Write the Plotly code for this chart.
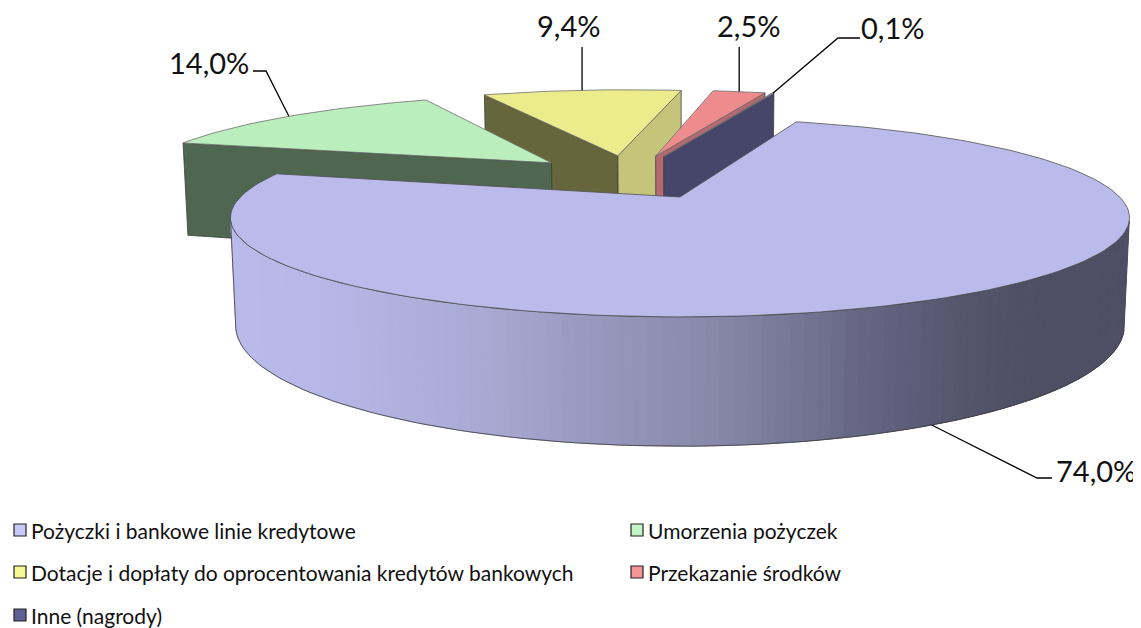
import numpy as np
import plotly.graph_objects as go

# ---- data ----
labels = ["Pożyczki i bankowe linie kredytowe", "Umorzenia pożyczek",
          "Dotacje i dopłaty do oprocentowania kredytów bankowych",
          "Przekazanie środków", "Inne (nagrody)"]
values = [74.0, 14.0, 9.4, 2.5, 0.1]
top_colors = ["#BBBBEB", "#BAEEBD", "#ECEC8C", "#EE8B8D", "#6A6A9C"]
legend_colors = ["#C8C8FA", "#C4F5C8", "#F8F890", "#F49496", "#5F5F96"]
face_colors = {1: {"start": "#4F6650"}, 2: {"start": "#66663C", "end": "#C4C47A"},
               3: {"end": "#B56A70"}, 4: {"end": "#46466A"}}

# ---- view of the pie ----
FIRST_ANGLE = 18.5
EXPLODE = 0.255
ELEV = np.radians(12.47)
DIST = 4.69
FOCAL = 2062.0
CX, CY = 680.0, 197.0
HEIGHT = 0.245
S, C = np.sin(ELEV), np.cos(ELEV)
LINE = "#3C3C3C"


def proj(x, y, z=0.0):
    w = DIST + y * C - z * S
    return CX + FOCAL * x / w, CY - FOCAL * (y * S + z * C) / w


def dirv(a):
    r = np.radians(a)
    return np.sin(r), np.cos(r)


fig = go.Figure()


def poly(pts, fill=None, line=LINE, width=0.8):
    xs = [p[0] for p in pts] + [pts[0][0]]
    ys = [p[1] for p in pts] + [pts[0][1]]
    fig.add_trace(go.Scatter(x=xs, y=ys, mode="lines", fill="toself" if fill else None,
                             fillcolor=fill, line=dict(color=line, width=width),
                             hoverinfo="skip", showlegend=False))


# slice angles and centres
bounds = [FIRST_ANGLE]
for v in values:
    bounds.append(bounds[-1] + v / sum(values) * 360)
mids = [(bounds[i] + bounds[i + 1]) / 2 for i in range(len(values))]
mx, my = dirv(mids[0])
tx, ty = -EXPLODE * mx, -EXPLODE * my   # true centre, main slice apex is the origin
centres = [(tx + EXPLODE * dirv(m)[0], ty + EXPLODE * dirv(m)[1]) for m in mids]


def rim(i, a, z=0.0):
    dx, dy = dirv(a)
    return proj(centres[i][0] + dx, centres[i][1] + dy, z)


def apex(i, z=0.0):
    return proj(centres[i][0], centres[i][1], z)


def top_pts(i):
    n = max(2, int((bounds[i + 1] - bounds[i]) / 1.5) + 2)
    return [apex(i)] + [rim(i, a) for a in np.linspace(bounds[i], bounds[i + 1], n)]


# far slices, back to front
for i in [2, 3, 4, 1]:
    for key, ang in (("start", bounds[i]), ("end", bounds[i + 1])):
        if key in face_colors[i]:
            poly([apex(i), rim(i, ang), rim(i, ang, -HEIGHT), apex(i, -HEIGHT)], face_colors[i][key])
    poly(top_pts(i), top_colors[i], line="#6E6E6E")

# main slice: rim wall with a gradient from light to dark
stops_x = [230, 320, 460, 600, 720, 850, 960, 1040, 1135]
stops_c = [(187, 187, 235), (184, 184, 232), (172, 172, 215), (152, 152, 190), (135, 135, 170),
           (105, 105, 135), (85, 85, 110), (78, 78, 100), (78, 78, 100)]


def wall_color(u):
    return "rgb(%d,%d,%d)" % tuple(np.interp(u, stops_x, [c[k] for c in stops_c]) for k in range(3))


angles = np.arange(bounds[0], bounds[1] + 0.01, 1.5)
vis = []
for a in angles:
    dx, dy = dirv(a)
    # camera sits at y = -DIST*C, z = DIST*S above the plane
    if dx * (0 - dx) + dy * (-DIST * C - dy) > 0:
        vis.append(a)
for a0, a1 in zip(vis[:-1], vis[1:]):
    p = [rim(0, a0), rim(0, a1), rim(0, a1, -HEIGHT), rim(0, a0, -HEIGHT)]
    col = wall_color(sum(q[0] for q in p) / 4)
    poly(p, col, line=col, width=1)
edge_x = [rim(0, a)[0] for a in vis] + [rim(0, a, -HEIGHT)[0] for a in vis[::-1]]
edge_y = [rim(0, a)[1] for a in vis] + [rim(0, a, -HEIGHT)[1] for a in vis[::-1]]
fig.add_trace(go.Scatter(x=edge_x, y=edge_y, mode="lines", line=dict(color="#3C3C3C", width=0.8),
                         hoverinfo="skip", showlegend=False))
poly(top_pts(0), top_colors[0], line="#505050")

# ---- percentage labels with leader lines ----
label_pos = [(1096, 470), (209, 62), (568, 25), (748, 25), (892, 27)]
elbows = [[(1037, 478), (1052, 478)], [(266, 71), (253, 71)], [(None, 47)], [(None, 47)],
          [(838, 38), (860, 38)]]
for i, v in enumerate(values):
    start = rim(0, mids[0], -HEIGHT) if i == 0 else rim(i, mids[i])
    pts = [start] + [(start[0] if e[0] is None else e[0], e[1]) for e in elbows[i]]
    fig.add_trace(go.Scatter(x=[p[0] for p in pts], y=[p[1] for p in pts], mode="lines",
                             line=dict(color="#000000", width=1.3), hoverinfo="skip", showlegend=False))
    fig.add_annotation(x=label_pos[i][0], y=label_pos[i][1], text=f"{v:.1f}".replace(".", ",") + "%",
                       showarrow=False, font=dict(family="Lato", size=29, color="#111111"),
                       xanchor="center", yanchor="middle")

# ---- legend ----
legend_x = [20, 20, 20, 637, 637]
legend_y = [530, 572, 615, 530, 572]
order = [0, 2, 4, 1, 3]
for lx, ly, i in zip(legend_x, legend_y, order):
    fig.add_trace(go.Scatter(x=[lx], y=[ly], mode="markers", hoverinfo="skip", showlegend=False,
                             marker=dict(symbol="square", size=12, color=legend_colors[i],
                                         line=dict(color="#222222", width=1.2))))
    fig.add_annotation(x=lx + 8.5, y=ly, text=labels[i], showarrow=False, xanchor="left", yanchor="middle",
                       font=dict(family="Lato", size=21, color="#111111"))

# the page body has an 8 px margin, so the plot area starts at page pixel (8, 8)
fig.update_layout(width=1133, height=620, margin=dict(l=0, r=0, t=0, b=0),
                  paper_bgcolor="white", plot_bgcolor="white",
                  xaxis=dict(range=[8, 1141], visible=False, fixedrange=True),
                  yaxis=dict(range=[628, 8], visible=False, fixedrange=True))
fig.write_html("out.html")
